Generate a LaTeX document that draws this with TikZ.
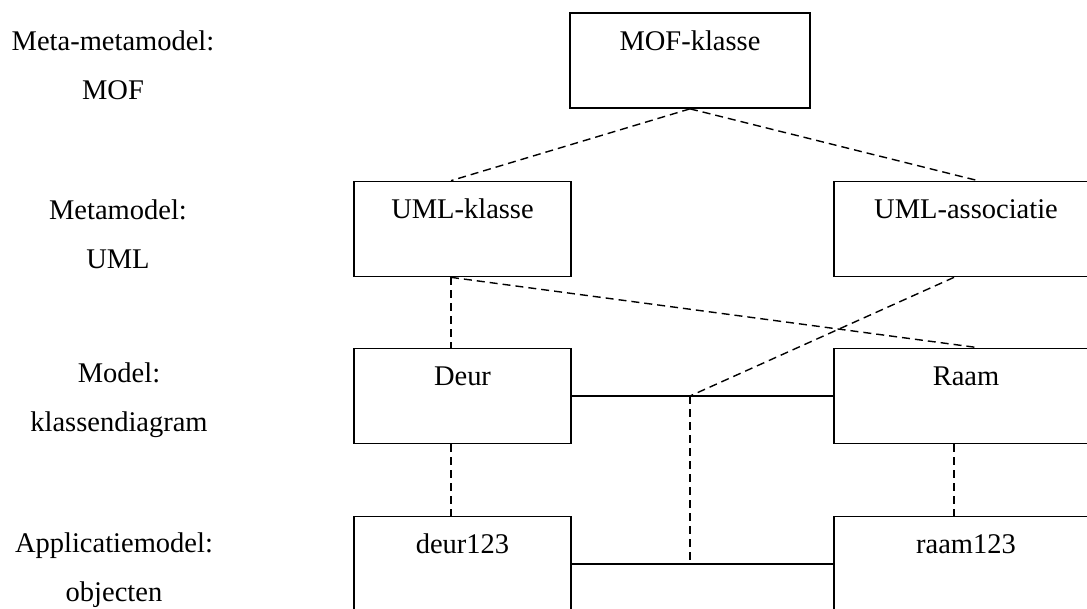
\documentclass[tikz,border=0pt]{standalone}
\usepackage{fontspec}
\setmainfont{Liberation Serif}
\usetikzlibrary{calc}

\tikzset{
  box/.style={draw, line width=1.7pt, rectangle, inner sep=0pt},
  leftbox/.style={box, minimum width=217pt, minimum height=95pt},
  rightbox/.style={box, minimum width=264pt, minimum height=95pt},
  topbox/.style={box, minimum width=240pt, minimum height=95pt},
  boxtext/.style={anchor=base, inner sep=0pt, font=\fontsize{28.5}{34}\selectfont},
  level/.style={align=center, inner sep=0pt, font=\fontsize{28.5}{49}\selectfont},
  instanceof/.style={dashed, line width=1.4pt, dash pattern=on 8pt off 5pt},
  assoc/.style={line width=1.7pt},
}

\begin{document}
\begin{tikzpicture}[x=1pt, y=-1pt]
  \useasboundingbox (0,0) rectangle (1087,608);
  \clip (0,0) rectangle (1087,608);

  % level captions
  \node[level] (l0) at (113,65)  {Meta-metamodel:\\MOF};
  \node[level] (l1) at (118,234) {Metamodel:\\UML};
  \node[level] (l2) at (119,400) {Model:\\klassendiagram};
  \node[level] (l3) at (114,570) {Applicatiemodel:\\objecten};

  % boxes
  \node[topbox]   (mof)   at (690,60.5) {};
  \node[leftbox]  (umlk)  at (462.5,229) {};
  \node[rightbox] (umla)  at (966,229) {};
  \node[leftbox]  (deur)  at (462.5,396) {};
  \node[rightbox] (raam)  at (966,396) {};
  \node[leftbox]  (deuro) at (462.5,564) {};
  \node[rightbox] (raamo) at (966,564) {};

  % box titles
  \node[boxtext] (tmof)   at ([yshift=-38pt]mof.north)   {MOF-klasse};
  \node[boxtext] (tumlk)  at ([yshift=-38pt]umlk.north)  {UML-klasse};
  \node[boxtext] (tumla)  at ([yshift=-38pt]umla.north)  {UML-associatie};
  \node[boxtext] (tdeur)  at ([yshift=-38pt]deur.north)  {Deur};
  \node[boxtext] (traam)  at ([yshift=-38pt]raam.north)  {Raam};
  \node[boxtext] (tdeuro) at ([yshift=-38pt]deuro.north) {deur123};
  \node[boxtext] (traamo) at ([yshift=-38pt]raamo.north) {raam123};

  % associations
  \draw[assoc] (deur.east) -- (raam.west);
  \draw[assoc] (deuro.east) -- (raamo.west);
  \coordinate (j1) at (mof.south |- deur.east);
  \coordinate (j2) at (mof.south |- deuro.east);

  % instance-of links
  \draw[instanceof] (mof.south) -- ([xshift=-11.5pt]umlk.north);
  \draw[instanceof] (mof.south) -- ([xshift=12pt]umla.north);
  \draw[instanceof] ([xshift=-11.5pt]umlk.south) -- ([xshift=-11.5pt]deur.north);
  \draw[instanceof] ([xshift=-11.5pt]umlk.south) -- ([xshift=12pt]raam.north);
  \draw[instanceof] ([xshift=-12pt]umla.south) -- (j1);
  \draw[instanceof] (j1) -- (j2);
  \draw[instanceof] ([xshift=-11.5pt]deur.south) -- ([xshift=-11.5pt]deuro.north);
  \draw[instanceof] ([xshift=-12pt]raam.south) -- ([xshift=-12pt]raamo.north);
\end{tikzpicture}
\end{document}
